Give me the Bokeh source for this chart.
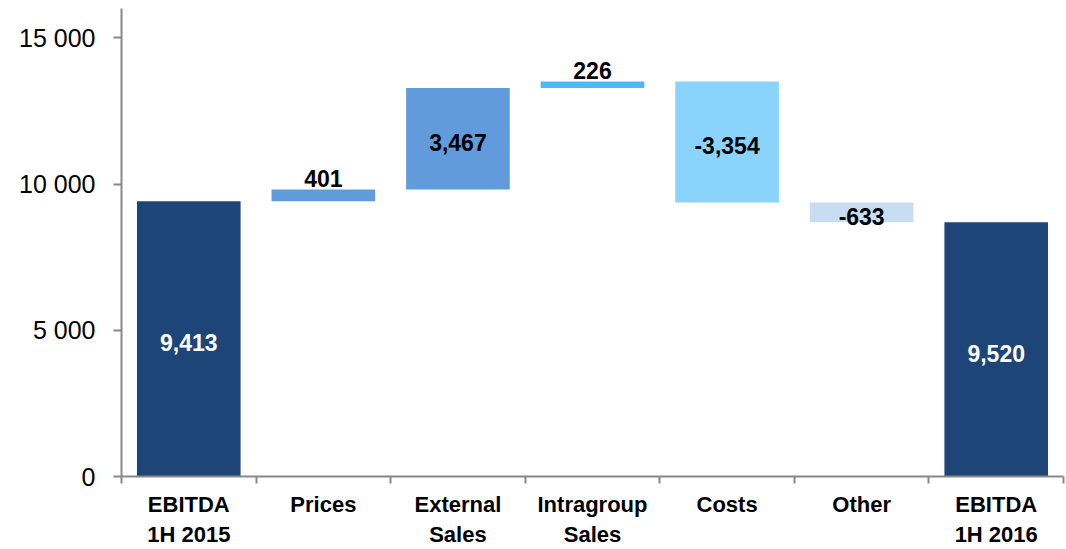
from bokeh.plotting import figure
from bokeh.models import FixedTicker, ColumnDataSource, Range1d
from bokeh.core.properties import value
from bokeh.embed import file_html
from bokeh.resources import INLINE

categories = ["EBITDA\n1H 2015", "Prices", "External\nSales", "Intragroup\nSales",
              "Costs", "Other", "EBITDA\n1H 2016"]
bar_start = [0, 9413, 9814, 13281, 13507, 9370, 0]
bar_end = [9413, 9814, 13281, 13507, 9370, 8690, 8690]
value_labels = ["9,413", "401", "3,467", "226", "-3,354", "-633", "9,520"]
y_ticks = [0, 5000, 10000, 15000]
y_tick_labels = ["0", "5 000", "10 000", "15 000"]

colors = ["#1d4577", "#629bdb", "#629bdb", "#4bb9f7", "#8ad3fd", "#c8ddf2", "#1d4577"]
label_colors = ["white", "black", "black", "black", "black", "black", "white"]

n = len(categories)
xc = [i + 0.5 for i in range(n)]
bottom = [min(a, b) for a, b in zip(bar_start, bar_end)]
top = [max(a, b) for a, b in zip(bar_start, bar_end)]
small = [abs(b - a) < 500 for a, b in zip(bar_start, bar_end)]
label_y = [t if s else (b0 + t) / 2 for s, b0, t in zip(small, bottom, top)]
label_dy = [-11 if s else 4 for s in small]

src = ColumnDataSource(dict(x=xc, bottom=bottom, top=top, color=colors,
                            label=value_labels, ly=label_y, ldy=label_dy, lc=label_colors))

p = figure(width=1066, height=549, output_backend="svg", toolbar_location=None,
           x_range=Range1d(0, n), y_range=Range1d(0, 16000),
           min_border_left=121, min_border_right=3, min_border_top=8, min_border_bottom=72)
p.outline_line_color = None
p.xgrid.visible = False
p.ygrid.visible = False

p.vbar(x="x", bottom="bottom", top="top", width=0.77, fill_color="color",
       line_color=None, source=src)
p.text(x="x", y="ly", text="label", text_color="lc", y_offset="ldy",
       text_align="center", text_baseline="middle",
       text_font=value("Liberation Sans"), text_font_style="bold",
       text_font_size="23px", source=src)

axis_color = "#888888"
# y axis
p.yaxis.ticker = FixedTicker(ticks=y_ticks, minor_ticks=[])
p.yaxis.major_label_overrides = {t: l for t, l in zip(y_ticks, y_tick_labels)}
p.yaxis.axis_line_color = axis_color
p.yaxis.axis_line_width = 2
p.yaxis.major_tick_line_color = axis_color
p.yaxis.major_tick_line_width = 2
p.yaxis.major_tick_out = 8
p.yaxis.major_tick_in = 0
p.yaxis.major_label_text_font = "Liberation Sans"
p.yaxis.major_label_text_font_size = "25px"
p.yaxis.major_label_text_color = "#000000"
p.yaxis.major_label_standoff = 18

# x axis
p.xaxis.ticker = FixedTicker(ticks=xc, minor_ticks=list(range(n + 1)))
p.xaxis.major_label_overrides = {x: c for x, c in zip(xc, categories)}
p.xaxis.axis_line_color = axis_color
p.xaxis.axis_line_width = 2
p.xaxis.major_tick_line_color = None
p.xaxis.major_tick_out = 0
p.xaxis.major_tick_in = 0
p.xaxis.minor_tick_line_color = axis_color
p.xaxis.minor_tick_line_width = 2
p.xaxis.minor_tick_out = 7
p.xaxis.minor_tick_in = 0
p.xaxis.major_label_text_font = "Liberation Sans"
p.xaxis.major_label_text_font_style = "bold"
p.xaxis.major_label_text_font_size = "22px"
p.xaxis.major_label_text_color = "#000000"
p.xaxis.major_label_standoff = 8

open("out.html", "w").write(file_html(p, INLINE))
